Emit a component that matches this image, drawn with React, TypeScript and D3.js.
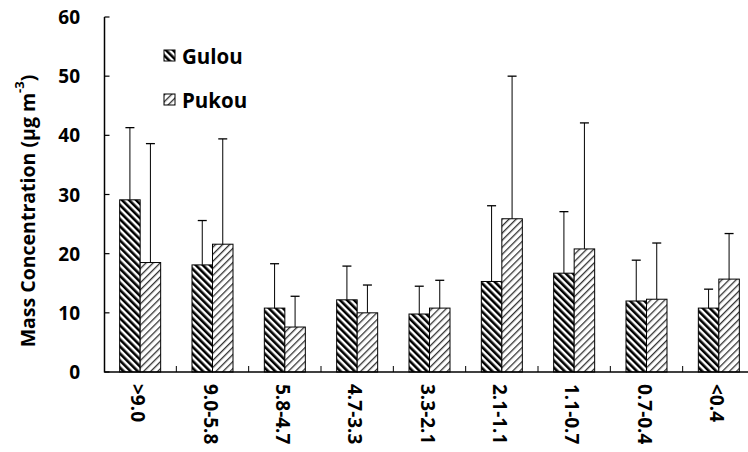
import React from "react";
import * as d3 from "d3";

const categories = [">9.0", "9.0-5.8", "5.8-4.7", "4.7-3.3", "3.3-2.1", "2.1-1.1", "1.1-0.7", "0.7-0.4", "<0.4"];
const gulouMean = [29.1, 18.1, 10.8, 12.2, 9.8, 15.3, 16.7, 12.0, 10.8];
const gulouErr = [12.2, 7.5, 7.5, 5.7, 4.7, 12.8, 10.4, 6.9, 3.2];
const pukouMean = [18.5, 21.6, 7.6, 10.0, 10.8, 25.9, 20.8, 12.3, 15.7];
const pukouErr = [20.1, 17.8, 5.2, 4.7, 4.7, 24.1, 21.3, 9.5, 7.7];
const yTicks = [0, 10, 20, 30, 40, 50, 60];
const seriesNames = ["Gulou", "Pukou"];

const W = 748;
const H = 452;
const FONT = "'Open Sans', Lato, sans-serif";

export default function App() {
  const y = d3.scaleLinear().domain([0, 60]).range([372, 17]);
  const x0 = d3.scaleBand().domain(categories).range([104, 755]).paddingInner(0).paddingOuter(0);
  const bw = x0.bandwidth();
  const x1 = d3.scaleBand().domain(seriesNames).range([bw / 2 - 20.5, bw / 2 + 20.5]).padding(0);
  const series = [
    { name: "Gulou", mean: gulouMean, err: gulouErr, fill: "url(#pG)" },
    { name: "Pukou", mean: pukouMean, err: pukouErr, fill: "url(#pP)" },
  ];
  const yAxisX = 104.5;
  const baseY = y(0);

  return (
    <svg width={W} height={H} style={{ display: "block", position: "absolute", left: 0, top: 0, background: "#fff" }}>
      <defs>
        <pattern id="pG" patternUnits="userSpaceOnUse" width="5" height="5" patternTransform="rotate(-45)">
          <rect width="5" height="5" fill="#fff" />
          <rect x="0" y="0" width="2.6" height="5" fill="#000" />
        </pattern>
        <pattern id="pP" patternUnits="userSpaceOnUse" width="5" height="5" patternTransform="rotate(45)">
          <rect width="5" height="5" fill="#fff" />
          <rect x="0" y="0" width="1.3" height="5" fill="#333" />
        </pattern>
      </defs>
      <rect x={0} y={0} width={W} height={H} fill="#fff" />

      {categories.map((c, i) => (
        <g key={c} transform={`translate(${x0(c)},0)`}>
          {series.map((s) => {
            const bx = x1(s.name)!;
            const top = y(s.mean[i]);
            return (
              <rect key={s.name} x={bx} y={top} width={x1.bandwidth()} height={baseY - top} fill={s.fill} stroke="#000" strokeWidth={1} />
            );
          })}
        </g>
      ))}

      {categories.map((c, i) => (
        <g key={"e" + c} transform={`translate(${x0(c)},0)`}>
          {series.map((s) => {
            const cx = x1(s.name)! + x1.bandwidth() / 2;
            const top = y(s.mean[i]);
            const et = y(s.mean[i] + s.err[i]);
            return (
              <g key={s.name}>
                <line x1={cx} x2={cx} y1={top} y2={et} stroke="#000" strokeWidth={1} />
                <line x1={cx - 4.5} x2={cx + 4.5} y1={et} y2={et} stroke="#000" strokeWidth={1.3} />
              </g>
            );
          })}
        </g>
      ))}

      {/* axes */}
      <line x1={yAxisX} x2={yAxisX} y1={y(60)} y2={baseY + 0.5} stroke="#000" strokeWidth={1.5} />
      <line x1={yAxisX} x2={W} y1={baseY} y2={baseY} stroke="#000" strokeWidth={1.5} />
      {yTicks.map((t) => (
        <g key={t}>
          <line x1={yAxisX} x2={yAxisX + 5} y1={y(t)} y2={y(t)} stroke="#000" strokeWidth={1.2} />
          <text x={80} y={y(t)} textAnchor="end" dominantBaseline="central" fontFamily={FONT} fontWeight="bold" fontSize={19} fill="#000">
            {t}
          </text>
        </g>
      ))}
      {categories.slice(1).map((c) => (
        <line key={"t" + c} x1={x0(c)!} x2={x0(c)!} y1={baseY} y2={baseY - 6} stroke="#000" strokeWidth={1} />
      ))}
      {categories.map((c) => (
        <text
          key={"l" + c}
          transform={`translate(${x0(c)! + bw / 2 - 2},384) rotate(90)`}
          textAnchor="start"
          dominantBaseline="central"
          fontFamily={FONT}
          fontWeight="bold"
          fontSize={19}
          fill="#000"
        >
          {c}
        </text>
      ))}

      {/* y title */}
      <text transform="translate(27,211) rotate(-90)" textAnchor="middle" dominantBaseline="central" fontFamily={FONT} fontWeight="bold" fontSize={19.5} fill="#000">
        Mass Concentration (μg m
        <tspan dy={-8} fontSize={13}>-3</tspan>
        <tspan dy={8}>)</tspan>
      </text>

      {/* legend */}
      {series.map((s, i) => (
        <g key={"lg" + s.name} transform={`translate(164,${50 + i * 44})`}>
          <rect x={0} y={0} width={11} height={11} fill={s.fill} stroke="#000" strokeWidth={1} />
          <text x={18} y={6} dominantBaseline="central" fontFamily={FONT} fontWeight="bold" fontSize={20.5} fill="#000">
            {s.name}
          </text>
        </g>
      ))}
    </svg>
  );
}
